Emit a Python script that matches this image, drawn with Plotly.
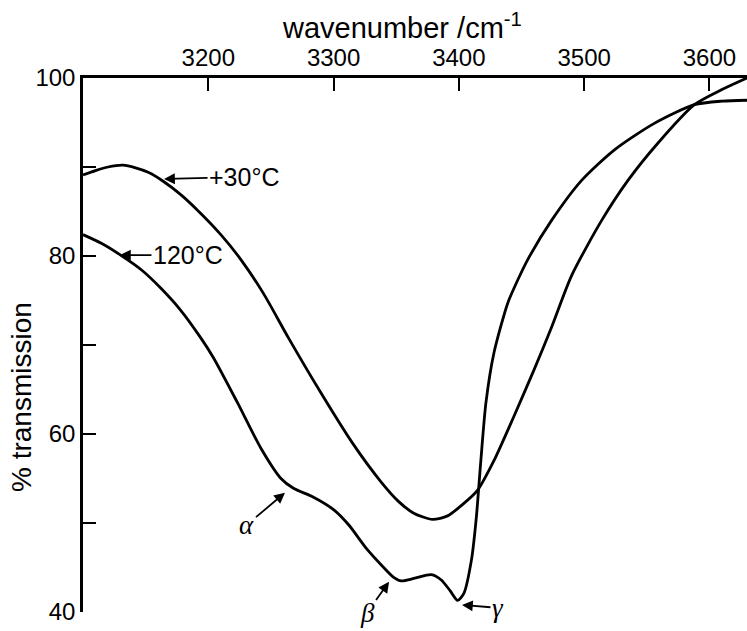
import plotly.graph_objects as go

# ---- data ----
wn_30 = [3100, 3110, 3120, 3132, 3142, 3152, 3164, 3178, 3191, 3210, 3226, 3244,
         3264, 3290, 3315, 3338, 3352, 3364, 3379, 3391, 3404, 3415, 3428, 3444, 3460,
         3474, 3490, 3514, 3535, 3559, 3588, 3610, 3630]
tr_30 = [89.1, 89.6, 90.0, 90.2, 89.9, 89.4, 88.4, 86.9, 85.2, 82.4, 79.6, 75.8,
         70.8, 64.6, 59.0, 54.6, 52.4, 51.1, 50.4, 50.8, 52.2, 53.7, 57.0, 62.0, 67.2,
         72.0, 77.8, 84.0, 88.5, 92.7, 97.0, 98.7, 100.0]

wn_120 = [3100, 3115, 3130, 3147, 3162, 3178, 3194, 3204, 3223, 3242, 3258, 3268, 3284,
          3300, 3312, 3327, 3340, 3348, 3354, 3365, 3378, 3386, 3393, 3399, 3404, 3410,
          3414, 3417.6, 3421.6, 3428, 3439, 3447, 3455, 3474, 3498, 3524, 3556, 3588,
          3610, 3631]
tr_120 = [82.4, 81.4, 80.1, 78.4, 76.4, 73.9, 70.8, 68.6, 63.6, 58.4, 55.0, 53.9, 52.9,
          51.5, 49.8, 47.0, 45.0, 43.9, 43.5, 43.8, 44.2, 43.6, 42.4, 41.3, 42.1, 45.8,
          50.7, 57.1, 63.5, 69.1, 74.7, 77.3, 79.6, 84.0, 88.5, 91.9, 94.9, 97.0,
          97.4, 97.5]

x_ticks = [3200, 3300, 3400, 3500, 3600]
y_ticks = [40, 60, 80, 100]
y_minor = [50, 70, 90]

fig = go.Figure()
for xs, ys in [(wn_30, tr_30), (wn_120, tr_120)]:
    fig.add_trace(go.Scatter(x=xs, y=ys, mode="lines",
                             line=dict(color="black", width=2.8, shape="spline", smoothing=0.7),
                             showlegend=False, hoverinfo="skip"))

font_main = "Liberation Sans"
W, H = 747, 631
ml, mr, mt, mb = 83, 0, 78, 19

fig.update_layout(
    width=W, height=H,
    margin=dict(l=ml, r=mr, t=mt, b=mb, pad=0),
    paper_bgcolor="white", plot_bgcolor="white",
    font=dict(family=font_main, color="black", size=22),
    xaxis=dict(range=[3100, 3630], side="top", showline=True, linecolor="black", linewidth=2.5,
               ticks="inside", ticklen=13, tickwidth=2, tickcolor="black",
               tickvals=x_ticks, ticktext=[str(v) for v in x_ticks],
               showgrid=False, zeroline=False, mirror=False,
               tickfont=dict(size=24, family=font_main)),
    yaxis=dict(range=[40, 100], showline=True, linecolor="black", linewidth=2.5,
               ticks="inside", ticklen=13, tickwidth=2, tickcolor="black",
               tickvals=y_ticks, ticktext=[str(v) for v in y_ticks],
               minor=dict(tickvals=y_minor, ticks="inside", ticklen=13, tickwidth=2,
                          tickcolor="black", showgrid=False),
               showgrid=False, zeroline=False, mirror=False,
               tickfont=dict(size=24, family=font_main)),
)

anns = []
# axis titles
anns.append(dict(text="wavenumber /cm<sup>-1</sup>", xref="paper", yref="paper",
                 x=(402 - ml) / (W - ml - mr), y=(H - mb - 26) / (H - mt - mb),
                 showarrow=False, font=dict(size=29, family=font_main),
                 xanchor="center", yanchor="middle"))
anns.append(dict(text="% transmission", xref="paper", yref="paper",
                 x=(21 - ml) / (W - ml - mr), y=(H - mb - 397) / (H - mt - mb),
                 showarrow=False, textangle=-90, font=dict(size=28, family=font_main),
                 xanchor="center", yanchor="middle"))

# curve labels with arrows
lab = dict(showarrow=True, arrowhead=2, arrowsize=1.2, arrowwidth=1.8, arrowcolor="black",
           xref="x", yref="y", axref="pixel", ayref="pixel")
anns.append(dict(text="+30°C", x=3164.7, y=88.65, ax=80, ay=-2,
                 font=dict(size=25, family=font_main), **lab))
anns.append(dict(text="120°C", x=3129.5, y=80.1, ax=68, ay=0,
                 font=dict(size=25, family=font_main), **lab))
greek = dict(size=27, family="Liberation Serif")
anns.append(dict(text="<i>α</i>", x=3261.2, y=53.4, ax=-38, ay=32, font=greek, **lab))
anns.append(dict(text="<i>β</i>", x=3344.3, y=43.4, ax=-22, ay=31, font=greek, **lab))
anns.append(dict(text="<i>γ</i>", x=3402.5, y=40.8, ax=36, ay=3, font=greek, **lab))
fig.update_layout(annotations=anns)

fig.write_html("out.html")
